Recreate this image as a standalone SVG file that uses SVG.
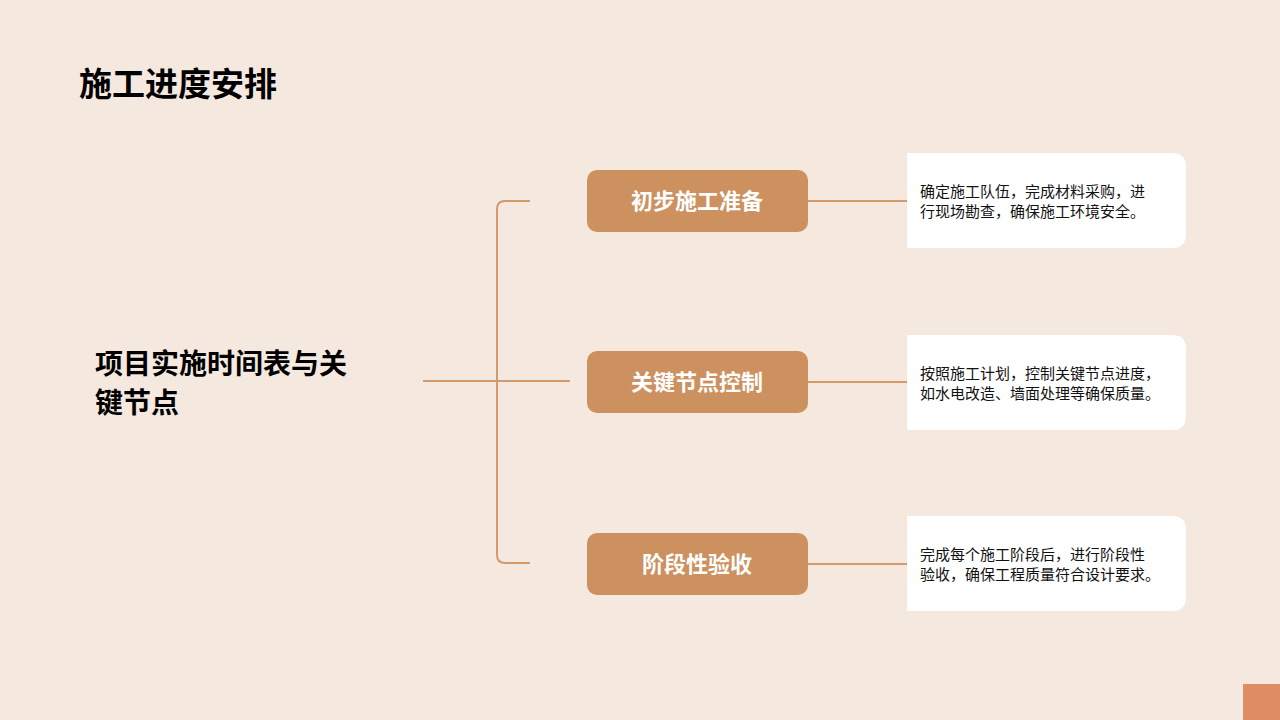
<svg xmlns="http://www.w3.org/2000/svg" width="1280" height="720" viewBox="0 0 1280 720">
<style>
.t{font-family:"Liberation Sans","Noto Sans CJK SC",sans-serif}
.ln{stroke:#d39a6c;stroke-width:2;fill:none}
.ob{fill:#cc915f}
.ol{font-size:22px;font-weight:bold;fill:#fff;text-anchor:middle}
.wb{fill:#fff}
.d{font-size:15px;fill:#111}
</style>
<rect width="1280" height="720" fill="#f5e8df"/>
<rect x="1243" y="684" width="37" height="36" fill="#e08c63"/>
<text class="t" x="79" y="96" font-size="33" font-weight="bold" fill="#000">施工进度安排</text>
<g id="root"><text class="t" font-size="28" font-weight="bold" fill="#000"><tspan x="95" y="374">项目实施时间表与关</tspan><tspan x="95" y="413">键节点</tspan></text></g>
<g id="connectors">
<path class="ln" d="M423 381H570"/>
<path class="ln" d="M530 201H505Q497 201 497 209V555Q497 563 505 563H530"/>
<path class="ln" d="M808 201H907M808 382H907M808 564H907"/>
</g>
<g id="n1"><rect class="ob" x="587" y="170" width="221" height="62" rx="10"/><text class="t ol" x="697" y="209">初步施工准备</text></g>
<g id="n2"><rect class="ob" x="587" y="351" width="221" height="62" rx="10"/><text class="t ol" x="697" y="390">关键节点控制</text></g>
<g id="n3"><rect class="ob" x="587" y="533" width="221" height="62" rx="10"/><text class="t ol" x="697" y="572">阶段性验收</text></g>
<g id="d1"><path class="wb" d="M907 153H1172Q1186 153 1186 167V234Q1186 248 1172 248H907Z"/><text class="t d"><tspan x="920" y="197">确定施工队伍，完成材料采购，进</tspan><tspan x="920" y="217">行现场勘查，确保施工环境安全。</tspan></text></g>
<g id="d2"><path class="wb" d="M907 335H1172Q1186 335 1186 349V416Q1186 430 1172 430H907Z"/><text class="t d"><tspan x="920" y="379">按照施工计划，控制关键节点进度，</tspan><tspan x="920" y="399">如水电改造、墙面处理等确保质量。</tspan></text></g>
<g id="d3"><path class="wb" d="M907 516H1172Q1186 516 1186 530V597Q1186 611 1172 611H907Z"/><text class="t d"><tspan x="920" y="560">完成每个施工阶段后，进行阶段性</tspan><tspan x="920" y="580">验收，确保工程质量符合设计要求。</tspan></text></g>
</svg>
